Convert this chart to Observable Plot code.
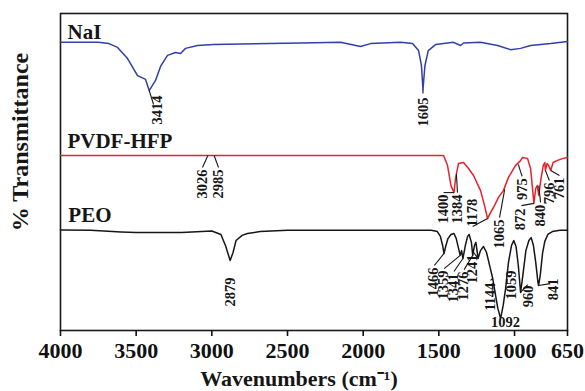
<!DOCTYPE html>
<html><head><meta charset="utf-8">
<script src="https://cdn.jsdelivr.net/npm/d3@7"></script>
<script src="https://cdn.jsdelivr.net/npm/@observablehq/plot@0.6"></script>
<style>
html,body{margin:0;padding:0;background:#fff}
#chart svg{font-family:"Liberation Serif","Times New Roman",serif;font-weight:bold}
</style>
</head><body><div id="chart"></div>
<script>
// x ticks
const xTicks = [4000, 3500, 3000, 2500, 2000, 1500, 1000, 650];

// NaI spectrum (wavenumber, offset % transmittance)
const naiWn = [4000,3750,3680,3623,3557,3491,3438,3414,3372,3339,3293,3240,3207,3174,3095,2989,2414,2150,2018,1952,1753,1674,1634,1615,1605,1592,1570,1522,1403,1357,1337,1225,1112,1027,960,894,762,650];
const naiT  = [90.9,90.9,90.5,89.3,85.8,80.4,79.2,75.7,78.9,83.3,86.8,87.7,87.4,89.0,89.9,90.2,90.7,90.9,89.6,90.5,90.9,90.5,88.3,83.6,76.0,83.6,88.3,90.2,90.9,89.9,90.7,90.9,89.9,88.6,89.0,89.9,90.5,91.2];

// PVDF-HFP spectrum
const pvdfWn = [4000,1469,1443,1420,1400,1390,1370,1337,1304,1271,1225,1198,1178,1159,1139,1106,1073,1040,993,960,947,914,894,880,872,860,850,840,825,810,800,796,785,775,761,745,720,680,650];
const pvdfT  = [55.2,55.2,52.1,45.7,43.5,48.0,52.7,53.0,51.1,48.9,44.2,39.4,35.3,37.2,38.8,42.0,44.2,48.3,52.1,53.6,54.6,54.3,51.1,44.2,40.1,44.8,45.7,42.6,47.9,52.1,53.0,50.5,52.7,52.1,50.5,53.0,53.6,54.3,54.6];

// PEO spectrum
const peoWn = [4000,3800,3600,3500,3200,3000,2940,2910,2879,2860,2840,2800,2765,2680,2500,1550,1510,1490,1475,1466,1455,1440,1420,1400,1385,1370,1359,1350,1341,1325,1310,1300,1285,1276,1265,1255,1241,1225,1205,1185,1160,1144,1125,1110,1092,1075,1059,1040,1020,1005,990,975,960,945,925,905,890,875,860,845,841,830,815,800,780,750,700,650];
const peoT  = [31.7,31.6,31.1,30.9,30.9,31.4,30.3,26.8,22.1,24.6,28.4,30.0,30.6,31.2,31.6,31.6,31.2,29.7,26.8,24.3,26.5,29.0,30.3,30.6,29.0,25.9,23.7,25.2,22.7,26.8,29.7,30.3,27.8,23.7,26.8,27.8,22.7,25.2,26.5,24.6,19.6,16.4,11.0,6.9,3.8,7.9,13.2,21.5,26.8,28.4,26.5,20.5,12.0,17.4,25.2,28.4,29.3,26.8,21.5,15.1,14.2,17.4,24.3,28.1,30.3,31.2,31.6,31.6];

// series names
const nameLabel = ["NaI", "PVDF-HFP", "PEO"];
const nameWn = [3954, 3954, 3948];
const nameT = [92.1, 57.7, 34.1];

// peak annotations: label, leader start (peak), leader end, text anchor (top of rotated text)
const annLabel = ["3414","1605","3026","2985","1400","1384","1178","1065","975","872","840","796","761","2879","1466","1359","1341","1276","1241","1144","1059","960","841"];
const annPeakWn = [3414,1605,3026,2985,1400,1384,1178,1065,975,872,840,796,761,null,1466,1359,1341,1276,1241,1144,null,960,841];
const annPeakT  = [75.7,76.0,55.2,55.2,43.5,49.4,35.3,44.5,52.4,40.1,45.7,50.5,50.5,null,24.3,23.7,22.7,23.7,22.7,16.4,null,12.0,14.2];
const annEndWn  = [3385,1605,3062,2956,1469,1377,1277,1099,950,954,828,770,703,null,1530,1465,1400,1333,1270,1159,null,913,765];
const annEndT   = [71.3,74.8,51.4,51.4,43.5,43.5,32.8,35.6,48.6,39.4,40.4,47.3,48.9,null,20.5,19.5,18.6,19.2,24.6,15.8,null,14.5,14.8];
const annTextWn = [3359,1605,3062,2956,1469,1377,1277,1099,950,960,828,770,703,2879,1535,1469,1403,1337,1278,1159,1020,908,742];
const annTextT  = [74.1,73.5,50.8,50.8,42.9,42.9,41.6,35.0,48.0,38.5,39.7,46.7,48.3,16.7,19.9,18.9,18.0,18.6,24.0,15.1,18.9,14.2,16.4];

// horizontal peak label
const hLabel = ["1092"];
const hWn = [1060];
const hT = [2.5];

const rows = (wn, t, s) => wn.map((w, i) => ({wn: w, t: t[i], s}));
const nai = rows(naiWn, naiT, "NaI");
const pvdf = rows(pvdfWn, pvdfT, "PVDF-HFP");
const peo = rows(peoWn, peoT, "PEO");
const ann = annLabel.map((l, i) => ({label: l, pw: annPeakWn[i], pt: annPeakT[i], ew: annEndWn[i], et: annEndT[i], tw: annTextWn[i], tt: annTextT[i]}));
const leaders = ann.filter(d => d.pw != null);
const names = nameLabel.map((n, i) => ({n, wn: nameWn[i], t: nameT[i]}));
const hl = hLabel.map((l, i) => ({label: l, wn: hWn[i], t: hT[i]}));

const chart = Plot.plot({
  width: 585,
  height: 391,
  marginLeft: 60,
  marginRight: 18,
  marginTop: 13,
  marginBottom: 61,
  style: {fontFamily: '"Liberation Serif","Times New Roman",serif', fontWeight: "bold", fontSize: "22px", background: "#fff", color: "#111"},
  x: {domain: [4000, 650]},
  y: {domain: [0, 100], axis: null},
  marks: [
    Plot.frame({stroke: "#1a1a1a", strokeWidth: 1.6}),
    Plot.axisX(xTicks, {tickSize: 6, tickPadding: 6, fontSize: 22, label: null, tickFormat: d => String(d), strokeWidth: 1.6}),
    Plot.line(nai, {x: "wn", y: "t", stroke: "#3040a8", strokeWidth: 1.5}),
    Plot.line(pvdf, {x: "wn", y: "t", stroke: "#e4222a", strokeWidth: 1.5}),
    Plot.line(peo, {x: "wn", y: "t", stroke: "#161616", strokeWidth: 1.5}),
    Plot.link(leaders, {x1: "pw", y1: "pt", x2: "ew", y2: "et", stroke: "#161616", strokeWidth: 1.1}),
    Plot.text(ann, {x: "tw", y: "tt", text: "label", rotate: -90, textAnchor: "end", lineAnchor: "middle", fontSize: 14.5, fill: "#161616"}),
    Plot.text(hl, {x: "wn", y: "t", text: "label", fontSize: 14.5, fill: "#161616"}),
    Plot.text(names, {x: "wn", y: "t", text: "n", textAnchor: "start", lineAnchor: "bottom", fontSize: 21, fill: "#161616"}),
    Plot.text(["Wavenumbers (cm\u207B\u00B9)"], {text: d => d, frameAnchor: "bottom", dx: -15, dy: 48, textAnchor: "middle", lineAnchor: "middle", fontSize: 22, fill: "#161616"}),
    Plot.text(["% Transmittance"], {text: d => d, frameAnchor: "left", dx: -40, dy: -30, rotate: -90, textAnchor: "middle", lineAnchor: "middle", fontSize: 24, fill: "#161616"})
  ]
});
document.getElementById("chart").appendChild(chart);
</script>
</body></html>
